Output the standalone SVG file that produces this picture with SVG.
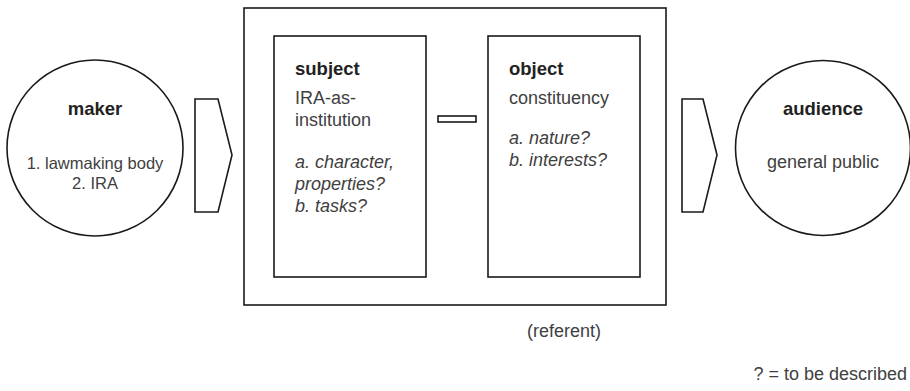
<svg xmlns="http://www.w3.org/2000/svg" width="910" height="391" viewBox="0 0 910 391">
  <style>
    .line { fill: #ffffff; stroke: #1a1a1a; stroke-width: 1.6; }
    .title { font-family: "Liberation Sans", Arial, sans-serif; font-size: 18.5px; font-weight: bold; fill: #222222; }
    .body { font-family: "Liberation Sans", Arial, sans-serif; font-size: 18px; fill: #404040; }
    .small { font-size: 16.5px; }
    .em { font-style: italic; }
    .mid { text-anchor: middle; }
  </style>
  <rect width="910" height="391" fill="#ffffff"/>

  <!-- referent frame -->
  <g id="referent">
    <rect class="line" x="244" y="8" width="422" height="297"/>
    <text class="body mid" x="564" y="337">(referent)</text>
  </g>

  <g id="maker">
    <circle class="line" cx="95" cy="148" r="88"/>
    <text class="title mid" x="95" y="115">maker</text>
    <text class="body small mid" x="95" y="169">1. lawmaking body</text>
    <text class="body small mid" x="95" y="189">2. IRA</text>
  </g>

  <g id="subject">
    <rect class="line" x="274" y="36" width="152" height="241"/>
    <text class="title" x="295" y="75">subject</text>
    <text class="body" x="295" y="104">IRA-as-</text>
    <text class="body" x="295" y="126">institution</text>
    <text class="body em" x="295" y="168">a. character,</text>
    <text class="body em" x="295" y="190">properties?</text>
    <text class="body em" x="295" y="212">b. tasks?</text>
  </g>

  <g id="object">
    <rect class="line" x="488" y="36" width="152" height="241"/>
    <text class="title" x="509" y="75">object</text>
    <text class="body" x="509" y="104">constituency</text>
    <text class="body em" x="509" y="144">a. nature?</text>
    <text class="body em" x="509" y="166">b. interests?</text>
  </g>

  <g id="audience">
    <circle class="line" cx="823" cy="148" r="87.5"/>
    <text class="title mid" x="823" y="115">audience</text>
    <text class="body mid" x="823" y="168">general public</text>
  </g>

  <!-- connectors: transfer chevrons and the subject/object link -->
  <g id="connectors">
    <polygon class="line" points="195,99 218,99 232,155 218,212 195,212"/>
    <polygon class="line" points="682,99 703,99 717,155 703,212 682,212"/>
    <rect class="line" x="438" y="116" width="38" height="6"/>
  </g>

  <text class="body" x="907" y="380" text-anchor="end">? = to be described</text>
</svg>
